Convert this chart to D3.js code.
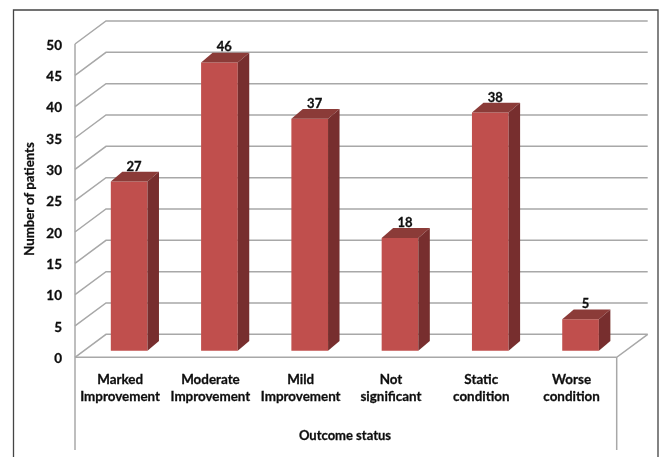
<!DOCTYPE html>
<html>
<head>
<meta charset="utf-8">
<script src="https://cdn.jsdelivr.net/npm/d3@7"></script>
<style>
  html, body { margin: 0; padding: 0; background: #fff; }
  svg { display: block; }
  text { font-family: Lato, "Open Sans", sans-serif; font-weight: 700; fill: #111; stroke: #111; stroke-width: 0.3px; }
</style>
</head>
<body>
<svg id="chart" width="659" height="457"></svg>
<script>
const categories = ["Marked Improvement", "Moderate Improvement", "Mild Improvement", "Not significant", "Static condition", "Worse condition"];
const patients = [27, 46, 37, 18, 38, 5];
const yTicks = [0, 5, 10, 15, 20, 25, 30, 35, 40, 45, 50];

const svg = d3.select("#chart");
const width = 659, height = 457;

// soft scan look of the source picture
svg.append("defs").append("filter").attr("id", "soft")
  .append("feGaussianBlur").attr("stdDeviation", 0.45);
const root = svg.append("g").attr("filter", "url(#soft)");

const plot = { left: 75, right: 616.7, top: 44, bottom: 357.3, wallBottom: 450 };
const depth = { x: 31, y: 23 };                 // wall depth
const barFront = { x: 9, y: 6.6 };              // bars stand this far in from the floor edge
const barDepth = { x: 11.5, y: 9.8 };

const x = d3.scaleBand().domain(categories).range([plot.left, plot.right]);
const barPad = (1 - 0.406) / 2 * x.step();
const barWidth = x.step() - 2 * barPad;
const y = d3.scaleLinear().domain([0, 50]).range([plot.bottom, plot.top]);

// outer frame, no bottom edge
root.append("path")
  .attr("d", d3.line()([[13.5, height], [13.5, 10], [658, 10], [658, height]]))
  .attr("fill", "none").attr("stroke", "#444").attr("stroke-width", 1.3);

const gridColor = "#a8a8a8";
const grid = root.append("g").attr("fill", "none").attr("stroke", gridColor).attr("stroke-width", 1.5);

grid.selectAll("path.gridline").data(yTicks).enter()
  .append("path")
  .attr("class", "gridline")
  .attr("d", d => d3.line()([
    [plot.left, y(d)],
    [plot.left + depth.x, y(d) - depth.y],
    [plot.right + depth.x, y(d) - depth.y]
  ]));

// floor edges and the drop lines under the axis
grid.append("path").attr("d", d3.line()([
  [plot.left, plot.wallBottom], [plot.left, plot.top]
]));
grid.append("path").attr("d", d3.line()([
  [plot.left, plot.bottom], [plot.right, plot.bottom],
  [plot.right + depth.x, plot.bottom - depth.y]
]));
grid.append("path").attr("d", d3.line()([
  [plot.right, plot.bottom], [plot.right, plot.wallBottom]
]));

// bars
const rows = categories.map((c, i) => ({ category: c, value: patients[i] }));
const bars = root.selectAll("g.bar").data(rows).enter().append("g").attr("class", "bar");
const bx = d => x(d.category) + barPad + barFront.x;
const baseY = plot.bottom - barFront.y;
const hY = d => baseY - (y(0) - y(d.value));

bars.append("path").attr("fill", "#c0504d")
  .attr("d", d => d3.line()([
    [bx(d), hY(d)], [bx(d) + barWidth, hY(d)], [bx(d) + barWidth, baseY], [bx(d), baseY]
  ]) + "Z");
bars.append("path").attr("fill", "#8b3a38")
  .attr("d", d => d3.line()([
    [bx(d), hY(d)], [bx(d) + barDepth.x, hY(d) - barDepth.y],
    [bx(d) + barWidth + barDepth.x, hY(d) - barDepth.y], [bx(d) + barWidth, hY(d)]
  ]) + "Z");
bars.append("path").attr("fill", "#772f2d")
  .attr("d", d => d3.line()([
    [bx(d) + barWidth, hY(d)], [bx(d) + barWidth + barDepth.x, hY(d) - barDepth.y],
    [bx(d) + barWidth + barDepth.x, baseY - barDepth.y], [bx(d) + barWidth, baseY]
  ]) + "Z");

bars.append("text")
  .attr("x", d => bx(d) + barWidth / 2 + barDepth.x / 2 - 0.8)
  .attr("y", d => hY(d) - barDepth.y - 1.2)
  .attr("text-anchor", "middle")
  .attr("font-size", 13)
  .text(d => d.value);

// y axis labels
const yAxis = root.append("g")
  .attr("transform", `translate(${plot.left}, 1)`)
  .call(d3.axisLeft(y).tickValues(yTicks).tickSize(0).tickPadding(13));
yAxis.select(".domain").remove();
yAxis.selectAll("text").attr("font-size", 13.5).style("font-family", null).attr("font-family", null);

// category labels, split over two lines
const xAxis = root.append("g")
  .attr("transform", `translate(0, ${plot.bottom})`)
  .call(d3.axisBottom(x).tickSize(0));
xAxis.select(".domain").remove();
xAxis.selectAll("text").each(function (d) {
  const words = d.split(" ");
  const t = d3.select(this).text(null).attr("y", 0).attr("dy", null).attr("font-size", 13.4);
  words.forEach((w, i) => t.append("tspan").attr("x", 0).attr("y", 27 + i * 17).text(w));
});

root.append("text")
  .attr("transform", "translate(34, 199) rotate(-90)")
  .attr("text-anchor", "middle").attr("font-size", 13.2)
  .text("Number of patients");

root.append("text")
  .attr("x", 345).attr("y", 439.5)
  .attr("text-anchor", "middle").attr("font-size", 13)
  .text("Outcome status");
</script>
</body>
</html>
